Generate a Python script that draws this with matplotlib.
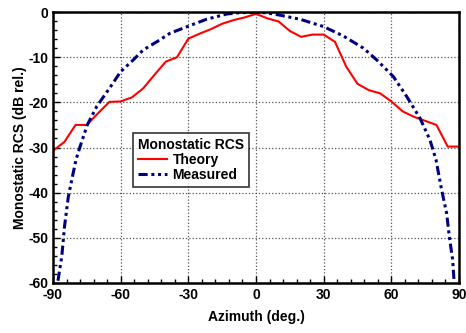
import numpy as np
import matplotlib.pyplot as plt
from matplotlib.ticker import MultipleLocator

plt.rcParams['font.family'] = ['Liberation Sans', 'DejaVu Sans']
plt.rcParams['font.weight'] = 'bold'
plt.rcParams['axes.unicode_minus'] = False

# theory curve (5 deg steps)
theory_az = [-90, -85, -80, -75, -70, -65, -60, -55, -50, -45, -40, -35, -30, -25, -20,
             -15, -10, -5, 0, 5, 10, 15, 20, 25, 30, 35, 40, 45, 50, 55, 60, 65, 70,
             75, 80, 85, 90]
theory_db = [-30.7, -28.8, -25, -25, -22.4, -19.9, -19.8, -18.9, -16.9, -13.9, -11, -10,
             -5.9, -4.8, -3.8, -2.6, -1.8, -1.2, -0.4, -1.4, -2.1, -4.2, -5.5, -5, -5,
             -6.6, -12.1, -15.9, -17.3, -18, -19.8, -22, -23.2, -24.1, -25, -29.8, -29.8]

# measured curve
meas_az = [-87.8, -86.1, -84.9, -83.2, -81.7, -79.8, -78, -74.8, -70.6, -64.7, -60, -54.4,
           -50, -44, -38.1, -29.8, -21.9, -13, -7.4, 0, 5, 10.6, 19.5, 29.8, 38.7, 47.6,
           53.5, 60.9, 66.8, 72.7, 77.1, 79.8, 82.3, 84.5, 85.7, 87.2, 87.8]
meas_db = [-59.5, -54.1, -47.5, -40.9, -37.2, -32.7, -29.8, -25, -20.9, -16.7, -13.2, -10.6,
           -8.4, -6.6, -4.7, -3.1, -1.6, -0.45, -0.15, -0.05, -0.2, -0.7, -1.6, -3.2, -5.3,
           -8, -10.6, -14.3, -18.7, -23.5, -28.3, -32.7, -39.4, -44.5, -49.7, -54.9, -59.5]

fig = plt.figure(figsize=(4.66, 3.33), dpi=100)
ax = fig.add_axes([53 / 466, 1 - 283 / 333, 406 / 466, 271 / 333])

ax.plot(theory_az, theory_db, color='red', lw=1.5, label='Theory')
ax.plot(meas_az, meas_db, color='#000080', lw=2.2,
        linestyle=(0, (3, 1.2, 1, 1.2, 1, 1.2)), label='Measured')

ax.set_xlim(-90, 90)
ax.set_ylim(-60, 0)
ax.xaxis.set_major_locator(MultipleLocator(30))
ax.xaxis.set_minor_locator(MultipleLocator(6))
ax.yaxis.set_major_locator(MultipleLocator(10))
ax.yaxis.set_minor_locator(MultipleLocator(2))
ax.tick_params(which='both', direction='in', labelsize=10, width=1)
ax.tick_params(which='major', length=5)
ax.tick_params(which='minor', length=3)
ax.grid(True, which='major', linestyle=':', color='#555555', lw=0.9)
for s in ax.spines.values():
    s.set_linewidth(1.8)

ax.set_xlabel('Azimuth (deg.)', fontsize=10, fontweight='bold', labelpad=6)
ax.set_ylabel('Monostatic RCS (dB rel.)', fontsize=10, fontweight='bold', labelpad=1)

leg = ax.legend(title='Monostatic RCS', loc='upper left', bbox_to_anchor=(0.19, 0.565),
                fontsize=10, title_fontsize=10, frameon=True, fancybox=False,
                edgecolor='black', handlelength=2.1, borderpad=0.35, labelspacing=0.1,
                handletextpad=0.4, borderaxespad=0.2)
leg.get_title().set_fontweight('bold')
leg.get_frame().set_linewidth(1.2)
leg._legend_box.align = 'left'

fig.savefig('out.png', dpi=100)
